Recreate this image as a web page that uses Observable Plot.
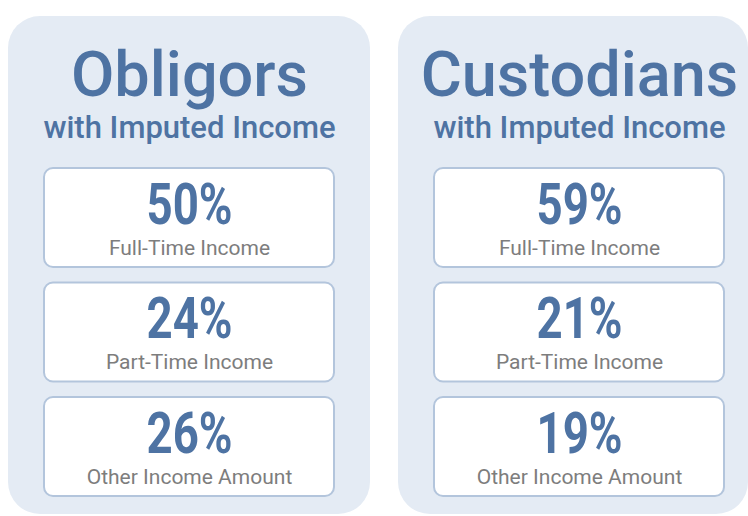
<!DOCTYPE html>
<html><head><meta charset="utf-8">
<script src="https://cdn.jsdelivr.net/npm/d3@7"></script>
<script src="https://cdn.jsdelivr.net/npm/@observablehq/plot@0.6"></script>
<style>body{margin:0;background:#fff}</style>
</head><body><div id="chart"></div>
<script>
// ---- data ----
const groups = ["Obligors", "Custodians"];
const subtitle = "with Imputed Income";
const categories = ["Full-Time Income", "Part-Time Income", "Other Income Amount"];
const obligorValues = [50, 24, 26];
const custodianValues = [59, 21, 19];

// ---- layout ----
const W = 748, H = 516;
const panelLeft = [8, 398], panelRight = [370, 748];
const center = [189, 579];
const panelTop = 16, panelBottom = 514;
const boxTop = 168, boxStep = 114.5, boxH = 99, boxHalfW = 145;
const font = "Roboto, 'DejaVu Sans', sans-serif";
const blue = "#4e73a3", grey = "#7d7d7d";

const valuesBy = [obligorValues, custodianValues];
const panels = groups.map((g, i) => ({group: g, i}));
const cells = groups.flatMap((g, i) => categories.map((c, j) => ({group: g, category: c, value: valuesBy[i][j], i, j})));

const chart = Plot.plot({
  width: W, height: H, margin: 0,
  x: {type: "identity", axis: null},
  y: {type: "identity", axis: null},
  style: {background: "transparent"},
  marks: [
    Plot.rect(panels, {x1: d => panelLeft[d.i], x2: d => panelRight[d.i], y1: () => panelTop, y2: () => panelBottom, fill: "#e4ebf4", rx: 32}),
    Plot.rect(cells, {x1: d => center[d.i] - boxHalfW, x2: d => center[d.i] + boxHalfW,
      y1: d => boxTop + d.j * boxStep, y2: d => boxTop + d.j * boxStep + boxH,
      fill: "white", stroke: "#b3c5dc", strokeWidth: 2, rx: 9}),
    Plot.text(panels, {x: d => center[d.i], y: () => 95, text: "group", fontSize: 63, fontWeight: 500, fill: blue,
      lineAnchor: "bottom", textAnchor: "middle", fontFamily: font}),
    Plot.text(panels, {x: d => center[d.i], y: () => 137, text: () => subtitle, fontSize: 31, fontWeight: 500, fill: blue,
      lineAnchor: "bottom", textAnchor: "middle", fontFamily: font}),
    Plot.text(cells, {x: d => center[d.i], y: d => boxTop + d.j * boxStep + 55, text: d => d.value + "%",
      fontSize: 57, fontWeight: "bold", fill: blue, lineAnchor: "bottom", textAnchor: "middle",
      fontFamily: font}),
    Plot.text(cells, {x: d => center[d.i], y: d => boxTop + d.j * boxStep + 86, text: "category",
      fontSize: 21, fontWeight: 400, fill: grey, lineAnchor: "bottom", textAnchor: "middle", fontFamily: font})
  ]
});
document.getElementById("chart").appendChild(chart);

// condense the bold percentages (DIN-like narrow figures)
d3.select(chart).selectAll("text").filter(function() { return /%$/.test(this.textContent); }).each(function() {
  const el = d3.select(this);
  const t = el.attr("transform");
  if (t) el.attr("transform", t + " scale(0.8,1)");
  else {
    const x = el.attr("x") || 0, y = el.attr("y") || 0;
    el.attr("x", null).attr("y", null).attr("transform", `translate(${x},${y}) scale(0.8,1)`);
  }
});
</script>
</body></html>
